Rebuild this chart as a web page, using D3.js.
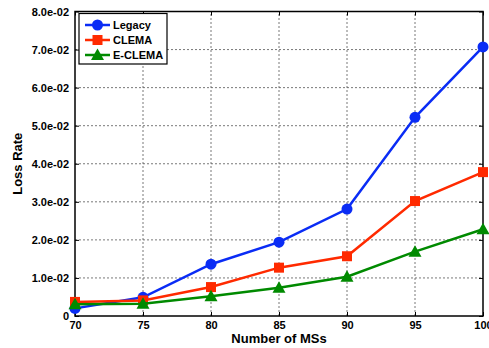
<!DOCTYPE html>
<html>
<head>
<meta charset="utf-8">
<script src="https://cdn.jsdelivr.net/npm/d3@7"></script>
<style>
  body { margin: 0; background: #fff; }
  svg text { font-family: "Liberation Sans", Arial, sans-serif; font-weight: bold; }
</style>
</head>
<body>
<svg id="chart"></svg>
<script>
const width = 489, height = 348;
const marginLeft = 75, marginRight = 6, marginTop = 11.5, marginBottom = 32;

// data
const msCounts = [70, 75, 80, 85, 90, 95, 100];
const legacy = [0.0020, 0.0049, 0.0136, 0.0194, 0.0281, 0.0522, 0.0707];
const clema = [0.0037, 0.0041, 0.0076, 0.0127, 0.0157, 0.0302, 0.0378];
const eclema = [0.0031, 0.0032, 0.0052, 0.0074, 0.0103, 0.0169, 0.0228];
const yTicks = [0, 0.01, 0.02, 0.03, 0.04, 0.05, 0.06, 0.07, 0.08];
const yTickLabels = ['0', '1.0e-02', '2.0e-02', '3.0e-02', '4.0e-02', '5.0e-02', '6.0e-02', '7.0e-02', '8.0e-02'];

const series = [
  { name: 'Legacy', values: legacy, color: '#0a2cf5', marker: 'circle' },
  { name: 'CLEMA', values: clema, color: '#ff2a00', marker: 'square' },
  { name: 'E-CLEMA', values: eclema, color: '#008a00', marker: 'triangle' }
];

const svg = d3.select('#chart').attr('width', width).attr('height', height);

const x = d3.scaleLinear().domain([70, 100]).range([marginLeft, width - marginRight]);
const y = d3.scaleLinear().domain([0, 0.08]).range([height - marginBottom, marginTop]);

// grid
const grid = svg.append('g');
grid.selectAll('.gx').data(msCounts.slice(1, -1)).join('line')
  .attr('x1', d => x(d)).attr('x2', d => x(d))
  .attr('y1', y(0)).attr('y2', y(0.08))
  .attr('stroke', '#555').attr('stroke-width', 0.8).attr('stroke-dasharray', '2,2');
grid.selectAll('.gy').data(yTicks.slice(1, -1)).join('line')
  .attr('x1', x(70)).attr('x2', x(100))
  .attr('y1', d => y(d)).attr('y2', d => y(d))
  .attr('stroke', '#555').attr('stroke-width', 0.8).attr('stroke-dasharray', '2,2');

// axes
svg.append('g')
  .attr('transform', `translate(0,${y(0)})`)
  .call(d3.axisBottom(x).tickValues(msCounts).tickSize(-4).tickPadding(5).tickFormat(d3.format('d')))
  .call(g => g.select('.domain').remove())
  .call(g => g.selectAll('text').style('font-size', '11px').attr('fill', '#000'));
svg.append('g')
  .attr('transform', `translate(${marginLeft},0)`)
  .call(d3.axisLeft(y).tickValues(yTicks).tickSize(-4).tickPadding(6).tickFormat((d, i) => yTickLabels[i]))
  .call(g => g.select('.domain').remove())
  .call(g => g.selectAll('text').style('font-size', '11px').attr('fill', '#000'));
// right & top ticks
svg.append('g')
  .attr('transform', `translate(${width - marginRight},0)`)
  .call(d3.axisRight(y).tickValues(yTicks).tickSize(-4).tickFormat(''))
  .call(g => g.select('.domain').remove());
svg.append('g')
  .attr('transform', `translate(0,${marginTop})`)
  .call(d3.axisTop(x).tickValues(msCounts).tickSize(-4).tickFormat(''))
  .call(g => g.select('.domain').remove());

// frame
svg.append('rect')
  .attr('x', x(70)).attr('y', y(0.08))
  .attr('width', x(100) - x(70)).attr('height', y(0) - y(0.08))
  .attr('fill', 'none').attr('stroke', '#000').attr('stroke-width', 1.5);

function drawMarker(g, type, cx, cy, color) {
  if (type === 'circle') {
    g.append('circle').attr('cx', cx).attr('cy', cy).attr('r', 5.5).attr('fill', color);
  } else if (type === 'square') {
    g.append('rect').attr('x', cx - 5).attr('y', cy - 5).attr('width', 10).attr('height', 10).attr('fill', color);
  } else {
    g.append('path').attr('d', `M${cx},${cy - 6.5}L${cx + 6.5},${cy + 5}L${cx - 6.5},${cy + 5}Z`).attr('fill', color);
  }
}

const line = d3.line().x((d, i) => x(msCounts[i])).y(d => y(d));
series.forEach(s => {
  const g = svg.append('g');
  g.append('path').datum(s.values).attr('d', line)
    .attr('fill', 'none').attr('stroke', s.color).attr('stroke-width', 2.5);
  s.values.forEach((v, i) => drawMarker(g, s.marker, x(msCounts[i]), y(v), s.color));
});

// legend
const lg = svg.append('g');
lg.append('rect').attr('x', 79).attr('y', 13.5).attr('width', 88).attr('height', 50.5)
  .attr('fill', '#fff').attr('stroke', '#000').attr('stroke-width', 1.2);
series.forEach((s, i) => {
  const ly = 25 + i * 15;
  lg.append('line').attr('x1', 85).attr('x2', 110).attr('y1', ly).attr('y2', ly)
    .attr('stroke', s.color).attr('stroke-width', 2.5);
  drawMarker(lg, s.marker, 97.5, ly, s.color);
  lg.append('text').attr('x', 113).attr('y', ly).attr('dy', '0.35em')
    .style('font-size', '11px').text(s.name);
});

// axis titles
svg.append('text').attr('x', (x(70) + x(100)) / 2).attr('y', 343)
  .attr('text-anchor', 'middle').style('font-size', '13px').text('Number of MSs');
svg.append('text').attr('transform', `translate(22,${(y(0) + y(0.08)) / 2}) rotate(-90)`)
  .attr('text-anchor', 'middle').style('font-size', '13px').text('Loss Rate');
</script>
</body>
</html>
